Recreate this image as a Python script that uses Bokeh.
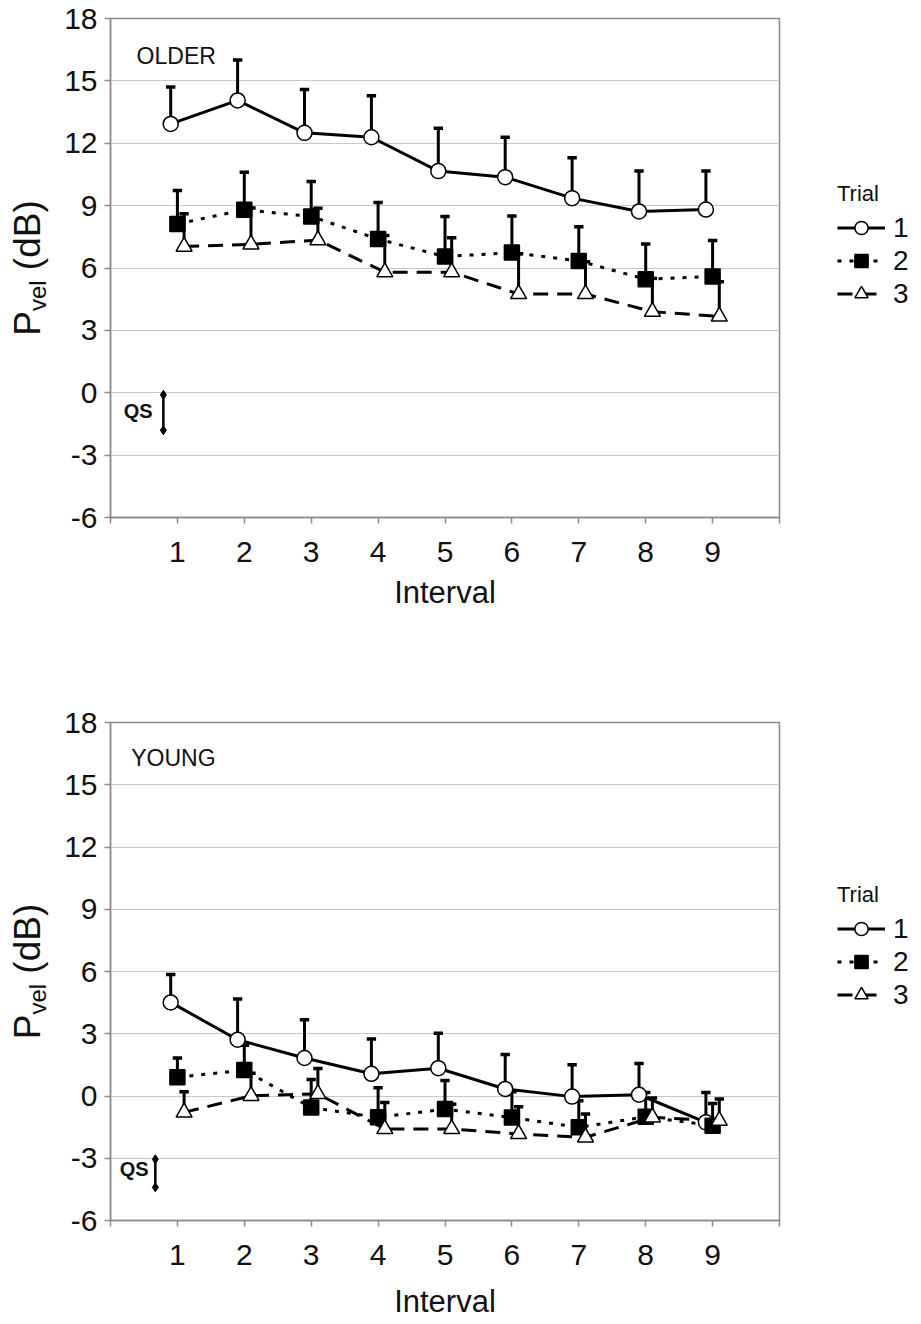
import math
from bokeh.plotting import figure
from bokeh.models import FixedTicker, Label, Legend, LegendItem
from bokeh.layouts import column, row
from bokeh.embed import file_html
from bokeh.resources import INLINE

# ---------------- data ----------------
intervals = [1, 2, 3, 4, 5, 6, 7, 8, 9]
y_ticks = [-6, -3, 0, 3, 6, 9, 12, 15, 18]
x_ticks = [0, 1, 2, 3, 4, 5, 6, 7, 8, 9, 10]
trial_labels = ["1", "2", "3"]
panel_titles = ["OLDER", "YOUNG"]

older_t1_mean = [12.93, 14.06, 12.50, 12.29, 10.66, 10.37, 9.36, 8.72, 8.81]
older_t1_upper = [14.70, 16.01, 14.58, 14.28, 12.72, 12.29, 11.30, 10.66, 10.66]
older_t2_mean = [8.12, 8.80, 8.48, 7.39, 6.55, 6.74, 6.34, 5.46, 5.59]
older_t2_upper = [9.73, 10.61, 10.16, 9.15, 8.48, 8.50, 7.98, 7.16, 7.32]
older_t3_mean = [7.03, 7.14, 7.34, 5.80, 5.80, 4.75, 4.75, 3.90, 3.67]
older_t3_upper = [8.61, 8.89, 8.87, 7.56, 7.46, 6.68, 6.30, 5.50, 5.34]

young_t1_mean = [4.51, 2.71, 1.83, 1.07, 1.34, 0.34, -0.03, 0.06, -1.27]
young_t1_upper = [5.85, 4.67, 3.68, 2.75, 3.03, 2.00, 1.51, 1.57, 0.17]
young_t2_mean = [0.90, 1.25, -0.56, -1.03, -0.63, -1.04, -1.51, -1.00, -1.43]
young_t2_upper = [1.83, 2.45, 0.80, 0.40, 0.75, 0.20, -0.23, 0.17, -0.36]
young_t3_mean = [-0.79, 0.01, 0.10, -1.59, -1.59, -1.83, -1.99, -1.03, -1.19]
young_t3_upper = [0.21, 1.10, 1.33, -0.31, -0.40, -0.52, -0.87, -0.10, -0.15]

qs_older = [-0.1, -1.8]
qs_young = [-3.05, -4.4]

# ---------------- style ----------------
FONT = "Liberation Sans"
GRAY = "#8a8a8a"
TXT = "#111111"
offsets = [-0.1, 0.0, 0.1]
markers = ["circle", "square", "triangle"]
marker_sizes = [15, 15, 16]
marker_fill = ["white", "black", "white"]
dashes = ["solid", "4 8", "15 9"]

FIG_H = 662
LABEL_W = 55      # left strip holding the y-axis title
MAIN_LEFT = 55    # border for y tick labels
FRAME_W = 669
MAIN_RIGHT = 2
LEGEND_W = 921 - LABEL_W - MAIN_LEFT - FRAME_W - MAIN_RIGHT


def blank_fig(width, x_range=(0, 1), y_range=(0, 1)):
    f = figure(width=width, height=FIG_H, x_range=x_range, y_range=y_range,
               output_backend="svg", toolbar_location=None,
               x_axis_location=None, y_axis_location=None,
               min_border_left=0, min_border_right=0,
               min_border_top=0, min_border_bottom=0)
    f.outline_line_color = None
    f.grid.visible = False
    f.background_fill_color = "white"
    f.border_fill_color = "white"
    return f


def ylabel_fig(frame_h):
    # the frame of this strip is aligned with the frame of the main panel
    f = blank_fig(LABEL_W)
    big, small = 37, 24
    w_p = 0.667 * big
    w_vel = 1.278 * small
    w_sp = 0.278 * big
    w_db = 1.889 * big
    total = w_p + w_vel + w_sp + w_db
    start = frame_h / 2 - total / 2
    xc = 27
    common = dict(x_units="screen", y_units="screen", angle=math.pi / 2,
                  text_font=FONT, text_color=TXT, text_align="left",
                  text_baseline="middle")
    f.add_layout(Label(x=xc, y=start, text="P", text_font_size=f"{big}px", **common))
    f.add_layout(Label(x=xc + 10, y=start + w_p, text="vel",
                       text_font_size=f"{small}px", **common))
    f.add_layout(Label(x=xc, y=start + w_p + w_vel + w_sp, text="(dB)",
                       text_font_size=f"{big}px", **common))
    return f


def legend_fig(series, legend_bottom):
    # ranges chosen so the placeholder renderers stay out of view;
    # only their legend glyphs are shown
    f = blank_fig(LEGEND_W, x_range=(-100, -99), y_range=(-100, -99))
    items = []
    for k, (mean, upper) in enumerate(series):
        lr = f.line(intervals, mean, line_width=3, line_color="black",
                    line_dash=dashes[k])
        mr = f.scatter(intervals, mean, marker=markers[k], size=marker_sizes[k],
                       fill_color=marker_fill[k], line_color="black", line_width=1.5)
        items.append(LegendItem(label=trial_labels[k], renderers=[lr, mr]))
    lg = Legend(items=items, title="Trial", location=(56, legend_bottom),
                border_line_color=None, background_fill_alpha=0,
                label_text_font=FONT, label_text_font_size="28px",
                label_text_color=TXT, label_text_line_height=1.0,
                title_text_font=FONT, title_text_font_size="22px",
                title_text_font_style="normal", title_text_color=TXT,
                glyph_width=48, glyph_height=33, label_height=29,
                label_standoff=8, spacing=0, padding=0, margin=0,
                title_standoff=4)
    f.add_layout(lg)
    return f


def make_panel(title, series, qs, top, bottom, title_pos, qs_text_pos, qs_x,
               xlabel_standoff):
    p = figure(width=MAIN_LEFT + FRAME_W + MAIN_RIGHT, height=FIG_H,
               x_range=(0, 10), y_range=(-6, 18),
               output_backend="svg", toolbar_location=None,
               min_border_left=MAIN_LEFT, min_border_right=MAIN_RIGHT,
               min_border_top=top, min_border_bottom=bottom)
    p.background_fill_color = "white"
    p.border_fill_color = "white"
    p.outline_line_color = GRAY
    p.outline_line_width = 1.5

    p.xgrid.visible = False
    p.ygrid.ticker = FixedTicker(ticks=y_ticks)
    p.ygrid.grid_line_color = "#c8c8c8"
    p.ygrid.grid_line_width = 1

    for ax in (p.xaxis[0], p.yaxis[0]):
        ax.axis_line_color = GRAY
        ax.axis_line_width = 1.5
        ax.major_tick_line_color = GRAY
        ax.major_tick_line_width = 1.5
        ax.major_tick_out = 6
        ax.major_tick_in = 0
        ax.minor_tick_line_color = None
        ax.major_label_text_font = FONT
        ax.major_label_text_font_size = "30px"
        ax.major_label_text_color = TXT
    p.yaxis.ticker = FixedTicker(ticks=y_ticks)
    p.yaxis.major_label_standoff = 7
    p.yaxis.major_label_overrides = {t: str(t) for t in y_ticks if t < 0}
    p.xaxis.ticker = FixedTicker(ticks=x_ticks)
    p.xaxis.major_label_overrides = {0: "", 10: ""}
    p.xaxis.major_label_standoff = 18
    p.xaxis.axis_label = "Interval"
    p.xaxis.axis_label_text_font = FONT
    p.xaxis.axis_label_text_font_size = "31px"
    p.xaxis.axis_label_text_font_style = "normal"
    p.xaxis.axis_label_text_color = TXT
    p.xaxis.axis_label_standoff = xlabel_standoff

    xs_all = [[i + off for i in intervals] for off in offsets]

    for k, (mean, upper) in enumerate(series):
        p.line(xs_all[k], mean, line_width=3, line_color="black", line_dash=dashes[k])
    for k, (mean, upper) in enumerate(series):
        xs = xs_all[k]
        p.segment(x0=xs, y0=mean, x1=xs, y1=upper, line_width=3, line_color="black")
        p.segment(x0=[x - 0.07 for x in xs], y0=upper,
                  x1=[x + 0.07 for x in xs], y1=upper,
                  line_width=3.5, line_color="black")
    for k, (mean, upper) in enumerate(series):
        p.scatter(xs_all[k], mean, marker=markers[k], size=marker_sizes[k],
                  fill_color=marker_fill[k], line_color="black", line_width=1.5)

    # QS indicator
    p.segment(x0=[qs_x], y0=[qs[0]], x1=[qs_x], y1=[qs[1]],
              line_width=2.5, line_color="black")
    p.scatter([qs_x, qs_x], qs, marker="diamond", size=9,
              fill_color="black", line_color="black")
    p.add_layout(Label(x=qs_text_pos[0], y=qs_text_pos[1], text="QS",
                       text_font=FONT, text_font_size="20px",
                       text_font_style="bold", text_color=TXT,
                       text_align="right", text_baseline="middle"))

    # panel title
    p.add_layout(Label(x=title_pos[0], y=title_pos[1], text=title,
                       text_font=FONT, text_font_size="23px", text_color=TXT,
                       text_align="left", text_baseline="alphabetic"))
    return p


older_series = [(older_t1_mean, older_t1_upper), (older_t2_mean, older_t2_upper),
                (older_t3_mean, older_t3_upper)]
young_series = [(young_t1_mean, young_t1_upper), (young_t2_mean, young_t2_upper),
                (young_t3_mean, young_t3_upper)]

TOP1, BOT1 = 18, 145
TOP2, BOT2 = 60, 104

p1 = make_panel(panel_titles[0], older_series, qs_older, TOP1, BOT1,
                (0.39, 16.22), (0.63, -0.86), 0.79, 10)
p2 = make_panel(panel_titles[1], young_series, qs_young, TOP2, BOT2,
                (0.31, 16.27), (0.57, -3.5), 0.67, 16)

fh1 = FIG_H - TOP1 - BOT1
fh2 = FIG_H - TOP2 - BOT2
row1 = row(ylabel_fig(fh1), p1, legend_fig(older_series, 207), spacing=0)
row2 = row(ylabel_fig(fh2), p2, legend_fig(young_series, 209), spacing=0)

layout = column(row1, row2, spacing=0)
open("out.html", "w").write(file_html(layout, INLINE))
